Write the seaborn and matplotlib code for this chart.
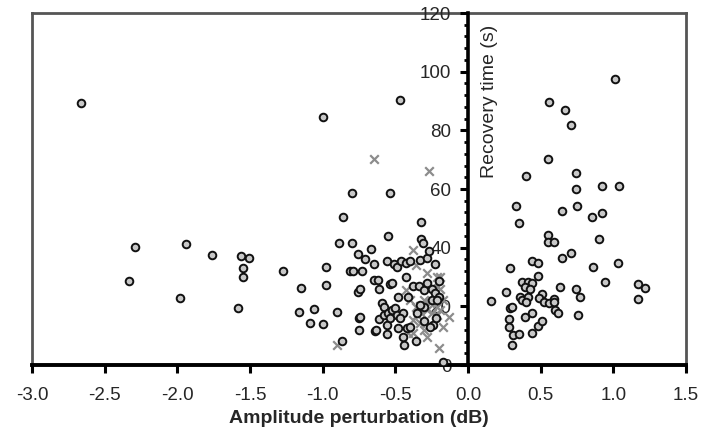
import numpy as np
import pandas as pd
import matplotlib
matplotlib.use('Agg')
import matplotlib.pyplot as plt
from matplotlib.ticker import MultipleLocator
import seaborn as sns


# circles (o) : amplitude perturbation (dB) vs recovery time (s)
circle_x = [-2.66, -2.29, -2.33, -1.94, -1.98, -1.76, -1.56, -1.51, -1.55, -1.55, -1.58, -1.27,
            -1.15, -1.16, -1.09, -1.06, -1.00, -0.98, -0.98, -0.90, -0.87, -1.00, -0.47, -0.80,
            -0.54, -0.86, -0.89, -0.80, -0.55, -0.32, -0.32, -0.31, -0.76, -0.71, -0.67, -0.81,
            -0.79, -0.73, -0.65, -0.56, -0.51, -0.49, -0.46, -0.43, -0.40, -0.33, -0.28, -0.23,
            -0.76, -0.74, -0.65, -0.62, -0.61, -0.54, -0.52, -0.43, -0.38, -0.34, -0.48, -0.41,
            -0.75, -0.74, -0.75, -0.64, -0.63, -0.61, -0.59, -0.58, -0.58, -0.56, -0.56, -0.55,
            -0.52, -0.50, -0.54, -0.49, -0.45, -0.47, -0.48, -0.45, -0.44, -0.42, -0.40, -0.36,
            -0.24, -0.17, -0.30, -0.25, -0.23, -0.20, -0.25, -0.30, -0.21, -0.35, -0.30, -0.26,
            -0.22, -0.33, -0.28, -0.20, -0.27,
            0.33, 0.75, 0.65, 0.85, 0.92, 0.35, 0.55, 0.55, 0.59, 0.90, 0.71, 0.65, 0.44, 0.48,
            1.03, 0.29, 0.86, 0.48, 0.37, 0.41, 0.44, 0.39, 0.43, 0.94, 0.63, 0.74, 0.77, 1.17,
            1.22, 1.17, 0.26, 0.16, 0.36, 0.37, 0.41, 0.40, 0.51, 0.49, 0.52, 0.56, 0.59, 0.59,
            0.60, 0.62, 0.76, 0.29, 0.30, 0.39, 0.44, 0.28, 0.28, 0.48, 0.51, 0.31, 0.35, 0.44,
            0.30, 1.01, 0.56, 0.67, 0.71, 0.55, 0.40, 0.74, 0.74, 0.92, 1.04]
circle_y = [89.3, 40.2, 28.6, 41.3, 22.8, 37.5, 37.2, 36.5, 33.0, 30.0, 19.4, 32.2,
            26.3, 18.1, 14.3, 19.1, 14.0, 33.4, 27.3, 18.1, 8.2, 84.6, 90.3, 58.6,
            58.6, 50.5, 41.6, 41.6, 44.0, 48.7, 43.0, 41.6, 37.8, 36.1, 39.6, 32.0,
            32.0, 32.0, 34.4, 35.5, 34.4, 33.4, 35.5, 34.8, 35.5, 35.8, 36.5, 34.4,
            24.9, 25.9, 29.0, 29.0, 25.9, 27.6, 28.0, 30.0, 27.0, 27.0, 23.2, 23.2,
            16.0, 16.4, 11.9, 11.6, 11.9, 15.7, 21.1, 19.8, 17.0, 13.6, 10.6, 17.7,
            18.8, 19.4, 16.0, 17.0, 17.7, 16.0, 12.6, 9.5, 6.8, 12.6, 13.0, 8.2,
            13.6, 1.0, 25.6, 25.9, 24.5, 23.2, 22.2, 19.8, 22.2, 17.7, 15.0, 13.0,
            16.0, 20.5, 28.0, 28.5, 39.0,
            54.2, 54.2, 52.5, 50.5, 51.8, 48.4, 44.3, 41.9, 41.9, 43.0, 38.2, 36.5, 35.5, 34.8,
            34.8, 33.0, 33.4, 30.3, 28.3, 28.3, 28.0, 26.6, 25.9, 28.3, 26.6, 25.9, 23.2, 27.6,
            26.3, 22.5, 24.9, 21.8, 23.2, 22.2, 23.2, 21.5, 24.2, 22.8, 21.5, 21.1, 22.5, 21.5,
            18.8, 17.7, 17.0, 19.4, 19.8, 16.4, 17.7, 15.7, 13.0, 13.3, 15.0, 10.2, 10.6, 10.9,
            6.8, 97.5, 89.7, 86.9, 81.8, 70.2, 64.4, 65.5, 60.0, 61.0, 61.0]

# crosses (x)
cross_x = [-0.65, -0.27, -0.90, -0.38, -0.36, -0.28, -0.21, -0.19, -0.28, -0.25, -0.23, -0.19,
           -0.43, -0.40, -0.36, -0.33, -0.30, -0.26, -0.21, -0.19, -0.17, -0.13, -0.17, -0.20,
           -0.35, -0.32, -0.28, -0.25, -0.21, -0.38, -0.33, -0.30, -0.38, -0.28, -0.41]
cross_y = [70.2, 66.1, 6.8, 39.2, 34.0, 31.4, 30.0, 30.0, 27.3, 26.6, 25.6, 25.9,
           25.6, 22.2, 19.8, 20.1, 22.2, 21.1, 19.8, 18.8, 22.2, 16.4, 13.0, 5.8,
           17.0, 17.7, 18.8, 17.7, 17.0, 15.3, 14.3, 11.9, 10.9, 9.5, 10.9]

x_ticks = [-3.0, -2.5, -2.0, -1.5, -1.0, -0.5, 0.0, 0.5, 1.0, 1.5]
y_ticks = [0, 20, 40, 60, 80, 100, 120]

df_c = pd.DataFrame({'amp': circle_x, 'rec': circle_y})
df_x = pd.DataFrame({'amp': cross_x, 'rec': cross_y})

sns.set_style('white')
plt.rcParams['font.family'] = ['Liberation Sans', 'DejaVu Sans']

fig = plt.figure(figsize=(7.03, 4.43), dpi=100)
pos = [32 / 703, 78 / 443, 654 / 703, 352 / 443]

# outer frame (grey box)
frame = fig.add_axes(pos, zorder=0)
frame.set_xticks([])
frame.set_yticks([])
for side in ['left', 'top', 'right']:
    frame.spines[side].set_color('#555555')
    frame.spines[side].set_linewidth(2)
frame.spines['bottom'].set_visible(False)

ax = fig.add_axes(pos, zorder=1)
ax.patch.set_alpha(0)

sns.scatterplot(data=df_x, x='amp', y='rec', marker='x', s=38, color='#8c8c8c',
                linewidth=1.6, ax=ax, zorder=3)
sns.scatterplot(data=df_c, x='amp', y='rec', marker='o', s=30, color='#c8c8c8',
                edgecolor='#111111', linewidth=1.4, ax=ax, zorder=3)

ax.set_xlim(-3.0, 1.5)
ax.set_ylim(0, 120)
ax.set_xticks(x_ticks)
ax.set_xticklabels([f'{t:.1f}' for t in x_ticks])
ax.set_yticks(y_ticks)
ax.set_yticklabels([str(t) for t in y_ticks])
ax.yaxis.set_minor_locator(MultipleLocator(4))

ax.spines['left'].set_position(('data', 0))
ax.spines['left'].set_linewidth(2.6)
ax.spines['left'].set_color('black')
ax.spines['bottom'].set_linewidth(2.8)
ax.spines['bottom'].set_color('black')
ax.spines['top'].set_visible(False)
ax.spines['right'].set_visible(False)

ax.tick_params(axis='x', which='major', direction='out', length=6, width=2.2,
               color='black', bottom=True, pad=10, labelsize=13.5)
ax.tick_params(axis='y', which='major', direction='out', length=6, width=2.2,
               color='black', left=True, pad=6, labelsize=13.5)
ax.tick_params(axis='y', which='minor', direction='out', length=3, width=2,
               color='black', left=True)

ax.set_xlabel('Amplitude perturbation (dB)', fontsize=14, fontweight='bold', labelpad=4)
ax.set_ylabel('Recovery time (s)', fontsize=14, va='center')
ax.yaxis.set_label_coords(0.70, 0.75)

plt.savefig('out.png', dpi=100)
